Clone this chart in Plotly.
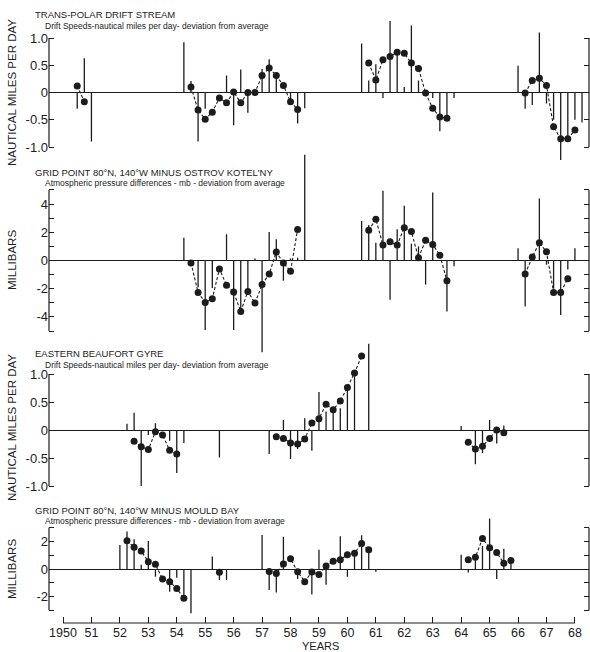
import plotly.graph_objects as go

W, H = 590, 652

# ---------------- Panel 1: Trans-Polar Drift Stream (nautical miles/day) ----------------
tpd_bar_t = [1950.5, 1950.75, 1951.0, 1954.25, 1954.5, 1954.75, 1955.0, 1955.75, 1956.0, 1956.25,
             1956.5, 1957.0, 1957.25, 1957.5, 1958.0, 1958.25, 1958.5,
             1960.5, 1960.75, 1961.0, 1961.25, 1961.5, 1961.75, 1962.0, 1962.25, 1962.5, 1963.0,
             1963.25, 1963.5, 1963.75,
             1966.0, 1966.25, 1966.5, 1966.75, 1967.0, 1967.25, 1967.5, 1967.75, 1968.0, 1968.25]
tpd_bar_v = [-0.3, 0.63, -0.9, 0.92, 0.21, -0.9, -0.3, 0.31, -0.6, 0.42,
             -0.37, 0.43, 0.61, 0.31, -0.17, -0.57, -0.29,
             0.9, 0.22, 0.52, -0.1, 1.31, 0.74, 0.1, 1.23, 0.22, -0.1,
             -0.71, -0.47, -0.1,
             0.49, -0.3, -0.23, 1.1, -0.2, -0.5, -1.24, -0.87, -0.5, -0.55]
tpd_dot_t = [1950.5, 1950.75, None,
             1954.5, 1954.75, 1955.0, 1955.25, 1955.5, 1955.75, 1956.0, 1956.25, 1956.5, 1956.75,
             1957.0, 1957.25, 1957.5, 1957.75, 1958.0, 1958.25, None,
             1960.75, 1961.0, 1961.25, 1961.5, 1961.75, 1962.0, 1962.25, 1962.5, 1962.75, 1963.0,
             1963.25, 1963.5, None,
             1966.25, 1966.5, 1966.75, 1967.0, 1967.25, 1967.5, 1967.75, 1968.0]
tpd_dot_v = [0.12, -0.17, None,
             0.1, -0.32, -0.49, -0.36, -0.1, -0.19, 0.01, -0.19, 0.0, 0.0,
             0.31, 0.45, 0.31, 0.13, -0.17, -0.31, None,
             0.54, 0.23, 0.6, 0.66, 0.74, 0.72, 0.54, 0.44, -0.01, -0.29,
             -0.45, -0.47, None,
             -0.01, 0.22, 0.26, 0.13, -0.63, -0.85, -0.85, -0.69]

# ---------------- Panel 2: Grid point 80N,140W minus Ostrov Kotel'ny (mb) ----------------
gok_bar_t = [1954.25, 1954.75, 1955.0, 1955.25, 1955.75, 1956.0, 1956.25, 1956.5, 1956.75, 1957.0,
             1957.25, 1957.5, 1957.75, 1958.0, 1958.25, 1958.5,
             1960.5, 1960.75, 1961.0, 1961.25, 1961.5, 1961.75, 1962.0, 1962.25, 1962.5, 1962.75,
             1963.0, 1963.5, 1963.75,
             1966.0, 1966.25, 1966.75, 1967.0, 1967.25, 1967.5, 1967.75, 1968.0]
gok_bar_v = [1.62, -1.9, -4.93, -1.95, 1.86, -4.93, -3.62, -2.1, 0.15, -6.5,
             2.02, 1.5, -1.43, 0.15, 0.2, 7.5,
             2.8, 2.52, 1.26, 4.95, -2.79, 2.21, 3.88, 1.19, 1.0, -1.71,
             4.83, -3.62, -0.4,
             0.86, -3.26, 4.4, -0.3, -2.0, -3.86, -0.64, 0.86]
gok_dot_t = [1954.5, 1954.75, 1955.0, 1955.25, 1955.5, 1955.75, 1956.0, 1956.25, 1956.5, 1956.75,
             1957.0, 1957.25, 1957.5, 1957.75, 1958.0, 1958.25, None,
             1960.75, 1961.0, 1961.25, 1961.5, 1961.75, 1962.0, 1962.25, 1962.5, 1962.75, 1963.0,
             1963.25, 1963.5, None,
             1966.25, 1966.5, 1966.75, 1967.0, 1967.25, 1967.5, 1967.75]
gok_dot_v = [-0.17, -2.26, -2.98, -2.71, -0.6, -1.76, -2.24, -3.62, -2.19, -3.02,
             -1.71, -0.95, 0.6, -0.17, -0.76, 2.2, None,
             2.14, 2.93, 1.1, 1.33, 1.1, 2.33, 2.05, 0.19, 1.43, 1.14,
             0.38, -1.43, None,
             -0.95, 0.24, 1.26, 0.62, -2.26, -2.26, -1.29]

# ---------------- Panel 3: Eastern Beaufort Gyre (nautical miles/day) ----------------
ebg_bar_t = [1952.25, 1952.5, 1952.75, 1953.0, 1953.25, 1953.75, 1954.0, 1954.25, 1955.5,
             1957.25, 1957.75, 1958.0, 1958.25, 1958.5, 1958.75, 1959.0, 1959.25, 1959.5,
             1959.75, 1960.0, 1960.25, 1960.75,
             1964.0, 1964.5, 1964.75, 1965.0, 1965.25, 1965.5]
ebg_bar_v = [0.11, 0.31, -1.0, -0.09, 0.12, -0.19, -0.77, -0.23, -0.49,
             -0.43, 0.18, -0.52, -0.34, 0.21, -0.37, 0.68, 0.33, 0.36,
             0.39, 0.76, 1.02, 1.54,
             0.07, -0.61, -0.41, 0.18, -0.24, 0.08]
ebg_dot_t = [1952.5, 1952.75, 1953.0, 1953.25, 1953.5, 1953.75, 1954.0, None,
             1957.5, 1957.75, 1958.0, 1958.25, 1958.5, 1958.75, 1959.0, 1959.25, 1959.5, 1959.75,
             1960.0, 1960.25, 1960.5, None,
             1964.25, 1964.5, 1964.75, 1965.0, 1965.25, 1965.5]
ebg_dot_v = [-0.2, -0.3, -0.35, -0.03, -0.09, -0.36, -0.43, None,
             -0.12, -0.15, -0.23, -0.25, -0.16, 0.125, 0.2, 0.46, 0.36, 0.52,
             0.76, 1.02, 1.32, None,
             -0.22, -0.34, -0.29, -0.15, 0.0, -0.05]

# ---------------- Panel 4: Grid point 80N,140W minus Mould Bay (mb) ----------------
gmb_bar_t = [1952.0, 1952.25, 1952.5, 1952.75, 1953.0, 1953.25, 1953.75, 1954.0, 1954.25, 1954.5,
             1955.25, 1955.5, 1955.75,
             1957.0, 1957.25, 1957.5, 1957.75, 1958.25, 1958.75, 1959.0, 1959.25, 1959.75,
             1960.0, 1960.25, 1960.5, 1960.75, 1961.0,
             1964.0, 1964.25, 1964.5, 1964.75, 1965.0, 1965.25, 1965.5, 1965.75]
gmb_bar_v = [1.75, 2.72, 2.16, 0.3, 2.04, -0.56, -1.65, -0.63, -2.13, -3.22,
             0.9, -0.8, -0.8,
             2.47, -1.53, -1.7, 2.35, -0.73, -1.86, 1.39, -1.15, 2.38,
             -0.56, 1.15, 2.45, 1.39, -0.2,
             1.04, -0.26, 0.85, 1.67, 3.67, -0.73, 1.48, 0.61]
gmb_dot_t = [1952.25, 1952.5, 1952.75, 1953.0, 1953.25, 1953.5, 1953.75, 1954.0, 1954.25, None,
             1955.5, None,
             1957.25, 1957.5, 1957.75, 1958.0, 1958.25, 1958.5, 1958.75, 1959.0, 1959.25, 1959.5,
             1959.75, 1960.0, 1960.25, 1960.5, 1960.75, None,
             1964.25, 1964.5, 1964.75, 1965.0, 1965.25, 1965.5, 1965.75]
gmb_dot_v = [2.06, 1.58, 1.31, 0.53, 0.34, -0.73, -0.92, -1.41, -2.13, None,
             -0.24, None,
             -0.19, -0.32, 0.36, 0.75, -0.2, -0.92, -0.21, -0.4, 0.21, 0.56,
             0.68, 1.04, 1.15, 1.86, 1.39, None,
             0.68, 0.85, 2.21, 1.55, 1.2, 0.42, 0.61]

years = list(range(1950, 1969))
year_labels = ["1950"] + [str(y)[2:] for y in years[1:]]

titles = ["TRANS-POLAR DRIFT STREAM",
          "GRID POINT 80°N, 140°W MINUS OSTROV KOTEL'NY",
          "EASTERN BEAUFORT GYRE",
          "GRID POINT 80°N, 140°W MINUS MOULD BAY"]
subtitles = ["Drift Speeds-nautical miles per day- deviation from average",
             "Atmospheric pressure differences - mb - deviation from average",
             "Drift Speeds-nautical miles per day- deviation from average",
             "Atmospheric pressure differences - mb - deviation from average"]
ytitles = ["NAUTICAL MILES PER DAY", "MILLIBARS", "NAUTICAL MILES PER DAY", "MILLIBARS"]

speed_ticks = [-1.0, -0.5, 0.0, 0.5, 1.0]
speed_text = ["-1.0", "-0.5", "0", "0.5", "1.0"]
p2_ticks = list(range(-5, 6))
p2_text = [str(v) if v % 2 == 0 and abs(v) < 5 else "" for v in p2_ticks]
p4_ticks = list(range(-3, 4))
p4_text = [str(v) if v % 2 == 0 else "" for v in p4_ticks]

# layout geometry (pixels)
panels = [
    dict(bt=tpd_bar_t, bv=tpd_bar_v, dt=tpd_dot_t, dv=tpd_dot_v, rng=[-1.35, 1.4], top=16.2, bot=166.1,
         tv=speed_ticks, tt=speed_text, ax=(-1, 1), ty=15, sy=26, yt=93),
    dict(bt=gok_bar_t, bv=gok_bar_v, dt=gok_dot_t, dv=gok_dot_v, rng=[-6.7, 7.7], top=151.9, bot=355.0,
         tv=p2_ticks, tt=p2_text, ax=(-5, 5), ty=172, sy=183, yt=260),
    dict(bt=ebg_bar_t, bv=ebg_bar_v, dt=ebg_dot_t, dv=ebg_dot_v, rng=[-1.15, 1.65], top=337.6, bot=494.4,
         tv=speed_ticks, tt=speed_text, ax=(-1, 1), ty=353, sy=365, yt=428),
    dict(bt=gmb_bar_t, bv=gmb_bar_v, dt=gmb_dot_t, dv=gmb_dot_v, rng=[-3.35, 3.75], top=517.4, bot=615.1,
         tv=p4_ticks, tt=p4_text, ax=(-3, 3), ty=510, sy=521, yt=569),
]

XL_PX, XR_PX = 49, 589
X0_PX, PX_PER_YR = 63, 28.44
AXIS_Y_PX = 623
xrange_ = [1950 - (X0_PX - XL_PX) / PX_PER_YR, 1950 + (XR_PX - X0_PX) / PX_PER_YR]
INK = "#1c1c1c"
FONT = "Liberation Sans"


def stems(t, v):
    xs, ys = [], []
    for a, b in zip(t, v):
        xs += [a, a, None]
        ys += [0, b, None]
    return xs, ys


fig = go.Figure()
shapes = []
annotations = []

for i, p in enumerate(panels, start=1):
    sx, sy_ = stems(p["bt"], p["bv"])
    xa = "x" if i == 1 else f"x{i}"
    ya = "y" if i == 1 else f"y{i}"
    fig.add_trace(go.Scatter(x=sx, y=sy_, mode="lines", xaxis=xa, yaxis=ya,
                             line=dict(color=INK, width=1.3), hoverinfo="skip", showlegend=False))
    fig.add_trace(go.Scatter(x=p["dt"], y=p["dv"], mode="lines+markers", xaxis=xa, yaxis=ya,
                             line=dict(color=INK, width=1.1, dash="3px,2px"),
                             marker=dict(color=INK, size=7), connectgaps=False, showlegend=False))
    dom = [1 - p["bot"] / H, 1 - p["top"] / H]
    xkey = "xaxis" if i == 1 else f"xaxis{i}"
    ykey = "yaxis" if i == 1 else f"yaxis{i}"
    xa_cfg = dict(domain=[XL_PX / W, XR_PX / W], range=xrange_, showgrid=False, zeroline=False,
                  showline=False, fixedrange=True)
    if i < 4:
        xa_cfg.update(anchor=ya, visible=False)
    else:
        xa_cfg.update(anchor="free", position=1 - AXIS_Y_PX / H, ticks="inside", ticklen=6,
                      tickwidth=1, tickcolor=INK, tickvals=years, ticktext=year_labels,
                      tickfont=dict(family=FONT, size=12.5, color=INK))
    fig.update_layout({xkey: xa_cfg})
    fig.update_layout({ykey: dict(domain=dom, range=p["rng"], anchor=xa, showgrid=False,
                                  zeroline=True, zerolinecolor=INK, zerolinewidth=1.2,
                                  showline=False, ticks="inside", ticklen=5, tickwidth=1,
                                  tickcolor=INK, mirror="ticks", tickvals=p["tv"], ticktext=p["tt"],
                                  tickfont=dict(family=FONT, size=13, color=INK), fixedrange=True)})
    # left & right axis lines spanning labelled range
    for xd in (0, 1):
        shapes.append(dict(type="line", xref=f"{xa} domain", yref=ya, x0=xd, x1=xd,
                           y0=p["ax"][0], y1=p["ax"][1], line=dict(color=INK, width=1.2)))
    annotations.append(dict(text=titles[i - 1], xref="paper", yref="paper", x=33 / W,
                            y=1 - p["ty"] / H, xanchor="left", yanchor="middle", showarrow=False,
                            font=dict(family=FONT, size=9.5, color=INK)))
    annotations.append(dict(text=subtitles[i - 1], xref="paper", yref="paper", x=43 / W,
                            y=1 - p["sy"] / H, xanchor="left", yanchor="middle", showarrow=False,
                            font=dict(family=FONT, size=8.5, color=INK)))
    annotations.append(dict(text=ytitles[i - 1], xref="paper", yref="paper", x=12 / W,
                            y=1 - p["yt"] / H, xanchor="center", yanchor="middle", showarrow=False,
                            textangle=-90, font=dict(family=FONT, size=11.5, color=INK)))

# bottom year axis line
shapes.append(dict(type="line", xref="x4", yref="paper", x0=years[0], x1=years[-1],
                   y0=1 - AXIS_Y_PX / H, y1=1 - AXIS_Y_PX / H, line=dict(color=INK, width=1.2)))
annotations.append(dict(text="YEARS", xref="paper", yref="paper", x=320 / W, y=1 - 645.5 / H,
                        xanchor="center", yanchor="middle", showarrow=False,
                        font=dict(family=FONT, size=11, color=INK)))

fig.update_layout(width=W, height=H, margin=dict(l=0, r=0, t=0, b=0),
                  paper_bgcolor="white", plot_bgcolor="rgba(0,0,0,0)",
                  shapes=shapes, annotations=annotations, showlegend=False)

fig.write_html("out.html")
